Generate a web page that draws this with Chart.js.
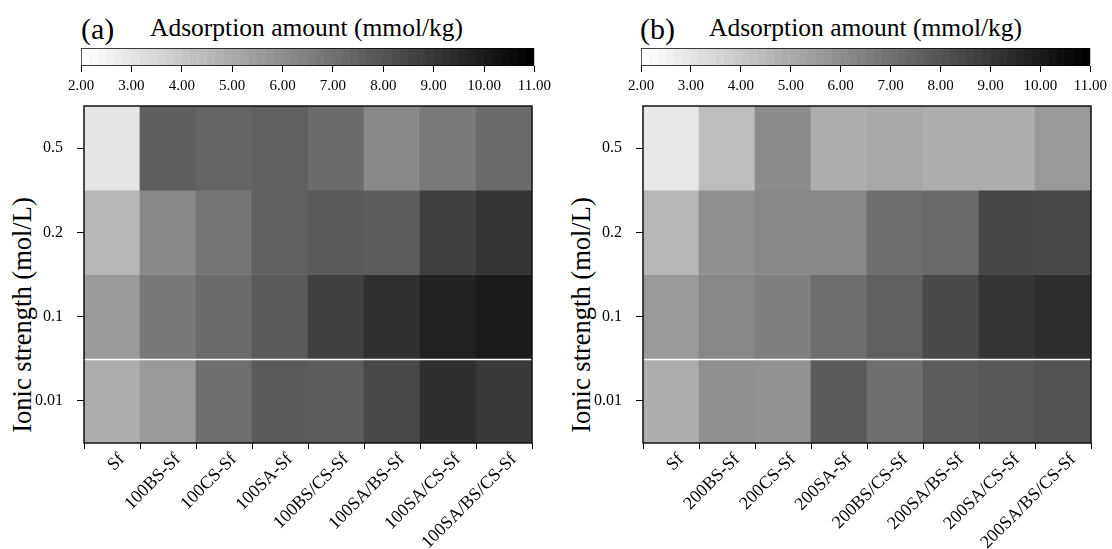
<!DOCTYPE html>
<html><head><meta charset="utf-8">
<script src="https://cdn.jsdelivr.net/npm/chart.js@4.4.1/dist/chart.umd.min.js"></script>
<style>
html,body{margin:0;padding:0;background:#fff;}
body{width:1112px;height:549px;position:relative;overflow:hidden;font-family:"Liberation Serif","Times New Roman",serif;color:#000;}
canvas{position:absolute;}
.lbl{position:absolute;white-space:nowrap;line-height:1;}
.ytitle{position:absolute;width:320px;text-align:center;font-size:26.5px;line-height:30px;transform:rotate(-90deg);white-space:nowrap;}
</style></head><body>
<div class="lbl" style="left:81px;top:14px;font-size:30px">(a)</div>
<div class="lbl" style="left:150px;top:14.5px;font-size:25.5px">Adsorption amount (mmol/kg)</div>
<div class="lbl" style="left:640px;top:14px;font-size:30px">(b)</div>
<div class="lbl" style="left:709px;top:14.5px;font-size:25.5px">Adsorption amount (mmol/kg)</div>
<div class="ytitle" style="left:-138px;top:300px">Ionic strength (mol/L)</div>
<div class="ytitle" style="left:421px;top:300px">Ionic strength (mol/L)</div>
<canvas id="cbA" width="556" height="55" style="left:0;top:40px;width:556px;height:55px"></canvas>
<canvas id="cbB" width="556" height="55" style="left:556px;top:40px;width:556px;height:55px"></canvas>
<canvas id="hmA" width="556" height="454" style="left:0;top:95px;width:556px;height:454px"></canvas>
<canvas id="hmB" width="556" height="454" style="left:556px;top:95px;width:556px;height:454px"></canvas>
<script>
// ---- data ----
const VMIN = 2, VMAX = 11;
const ionicLevels = ['0.5', '0.2', '0.1', '0.01']; // top to bottom
const labelsA = ['Sf','100BS-Sf','100CS-Sf','100SA-Sf','100BS/CS-Sf','100SA/BS-Sf','100SA/CS-Sf','100SA/BS/CS-Sf'];
const labelsB = ['Sf','200BS-Sf','200CS-Sf','200SA-Sf','200BS/CS-Sf','200SA/BS-Sf','200SA/CS-Sf','200SA/BS/CS-Sf'];
const a_05  = [2.88, 7.65, 7.44, 7.61, 7.22, 6.17, 6.69, 7.22];
const a_02  = [4.54, 6.17, 6.91, 7.61, 7.82, 7.72, 8.78, 9.16];
const a_01  = [5.56, 6.76, 7.22, 7.79, 8.74, 9.31, 9.80, 10.05];
const a_001 = [4.86, 5.56, 7.08, 7.82, 7.75, 8.42, 9.34, 8.99];
const b_05  = [2.81, 4.33, 6.06, 4.86, 5.07, 4.86, 4.86, 5.60];
const b_02  = [4.54, 5.92, 6.20, 6.20, 7.12, 7.26, 8.49, 8.46];
const b_01  = [5.56, 6.24, 6.52, 7.12, 7.61, 8.42, 9.13, 9.41];
const b_001 = [4.86, 5.92, 5.85, 7.79, 7.08, 7.75, 7.89, 8.07];
const cbTicks = [2, 3, 4, 5, 6, 7, 8, 9, 10, 11];

// ---- helpers ----
const FAMILY = 'Liberation Serif';
function grayOf(v) {
  const t = Math.min(1, Math.max(0, (v - VMIN) / (VMAX - VMIN)));
  const g = Math.round(255 * (1 - t));
  return 'rgb(' + g + ',' + g + ',' + g + ')';
}
function stepGradient(chart) {
  const a = chart.chartArea;
  if (!a) return '#888';
  const grad = chart.ctx.createLinearGradient(a.left, 0, a.right, 0);
  const N = 54;
  for (let i = 0; i < N; i++) {
    const c = grayOf(VMIN + (VMAX - VMIN) * i / (N - 1));
    grad.addColorStop(i / N, c);
    grad.addColorStop((i + 1) / N, c);
  }
  return grad;
}

const framePlugin = {
  id: 'frame',
  afterDatasetsDraw(chart) {
    const {ctx, chartArea: a, scales} = chart;
    const y = scales.y;
    ctx.save();
    const yb = Math.round(y.getPixelForValue(1)) + 0.5;
    ctx.strokeStyle = '#fff';
    ctx.lineWidth = 1.6;
    ctx.beginPath(); ctx.moveTo(a.left, yb); ctx.lineTo(a.right, yb); ctx.stroke();
    ctx.strokeStyle = '#111';
    ctx.lineWidth = 1.5;
    ctx.strokeRect(a.left, a.top, a.right - a.left, a.bottom - a.top);
    ctx.restore();
  }
};

function heatmap(id, labels, rows, yWidth, padRight) {
  const n = ionicLevels.length;
  const datasets = rows.map((vals, i) => {
    const r = n - 1 - i;
    return {
      label: ionicLevels[i],
      data: vals.map(() => [r, r + 1]),
      backgroundColor: vals.map(grayOf),
      borderWidth: 0,
      categoryPercentage: 1,
      barPercentage: 1,
      grouped: false
    };
  });
  new Chart(document.getElementById(id), {
    type: 'bar',
    data: {labels: labels, datasets: datasets},
    options: {
      responsive: false, animation: false, devicePixelRatio: 1,
      layout: {padding: {top: 11, right: padRight, left: 0, bottom: 0}},
      plugins: {legend: {display: false}, tooltip: {enabled: false}},
      scales: {
        x: {
          type: 'category',
          grid: {drawOnChartArea: false, drawTicks: true, tickLength: 6, color: '#000', lineWidth: 1},
          border: {display: false},
          ticks: {font: {family: FAMILY, size: 18}, color: '#000', minRotation: 45, maxRotation: 45, autoSkip: false, padding: 0, labelOffset: 10},
          afterFit: s => { s.height = 106; s.paddingLeft = 0; s.paddingRight = 0; }
        },
        y: {
          type: 'linear', min: 0, max: n,
          afterBuildTicks: s => { s.ticks = ionicLevels.map((_, k) => ({value: k + 0.5})); },
          grid: {drawOnChartArea: false, drawTicks: true, tickLength: 7, color: '#000', lineWidth: 1},
          border: {display: false},
          ticks: {font: {family: FAMILY, size: 16}, color: '#000', padding: 14,
            callback: v => ionicLevels[n - 1 - Math.floor(v)]},
          afterFit: s => { s.width = yWidth; s.paddingTop = 0; s.paddingBottom = 0; }
        }
      }
    },
    plugins: [framePlugin]
  });
}

function colorbar(id, padL, padR) {
  new Chart(document.getElementById(id), {
    type: 'bar',
    data: {labels: [''], datasets: [{
      data: [[VMIN, VMAX]],
      backgroundColor: ctx => stepGradient(ctx.chart),
      borderColor: '#000', borderWidth: 1, borderSkipped: false,
      categoryPercentage: 1, barPercentage: 1
    }]},
    options: {
      indexAxis: 'y', responsive: false, animation: false, devicePixelRatio: 1,
      layout: {padding: {left: padL, right: padR, top: 8, bottom: 0}},
      plugins: {legend: {display: false}, tooltip: {enabled: false}},
      scales: {
        x: {
          type: 'linear', min: VMIN, max: VMAX,
          afterBuildTicks: s => { s.ticks = cbTicks.map(v => ({value: v})); },
          ticks: {font: {family: FAMILY, size: 15}, color: '#000', padding: 5, maxRotation: 0, autoSkip: false,
            callback: v => Number(v).toFixed(2)},
          grid: {drawOnChartArea: false, drawTicks: true, tickLength: 6, color: '#000', lineWidth: 1},
          border: {display: false},
          afterFit: s => { s.height = 29; }
        },
        y: {display: false}
      }
    }
  });
}

colorbar('cbA', 81, 21);
colorbar('cbB', 85, 17);
heatmap('hmA', labelsA, [a_05, a_02, a_01, a_001], 84, 24);
heatmap('hmB', labelsB, [b_05, b_02, b_01, b_001], 87, 21);
</script>
</body></html>
